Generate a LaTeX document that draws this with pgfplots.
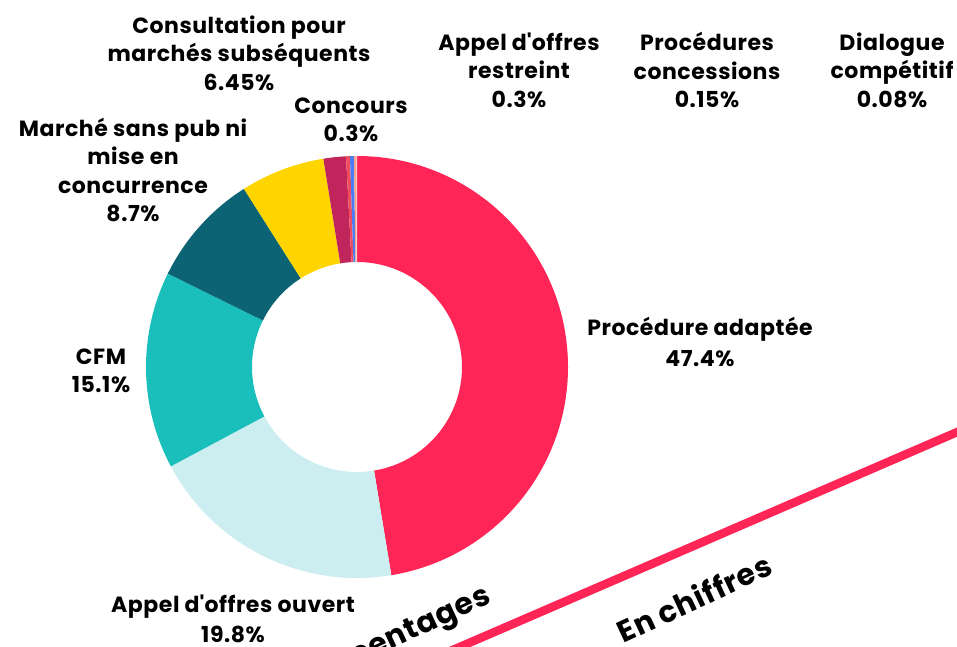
\documentclass[border=0pt]{standalone}
\usepackage{pgfplots}
\pgfplotsset{compat=1.18}
\usepackage{fontspec}
\setmainfont{Poppins}[LetterSpace=2.5]
\definecolor{cPA}{HTML}{FF2657}
\definecolor{cAOO}{HTML}{CCEEF1}
\definecolor{cCFM}{HTML}{1ABFBC}
\definecolor{cMSP}{HTML}{0B6373}
\definecolor{cCMS}{HTML}{FFD500}
\definecolor{cX}{HTML}{C0255C}
\definecolor{cCon}{HTML}{F04E5E}
\definecolor{cAOR}{HTML}{4C7CF5}
\definecolor{cPC}{HTML}{F4A58A}
\definecolor{cDC}{HTML}{F7C6C0}
\tikzset{lbl/.style={align=center, inner sep=0pt, text=black,
    font=\bfseries\fontsize{22}{28.5}\selectfont}}
\newcommand{\q}{\textquotesingle}
\begin{document}
\begin{tikzpicture}
\clip (0,0) rectangle (957pt,646pt);
\begin{axis}[
  scale only axis, width=957pt, height=646pt,
  xmin=0, xmax=957, ymin=0, ymax=646,
  hide axis, clip=false
]
\xdef\cum{0}
\foreach \v/\c in {47.4/cPA, 19.8/cAOO, 15.1/cCFM, 8.7/cMSP, 6.45/cCMS, 1.72/cX, 0.3/cCon, 0.3/cAOR, 0.15/cPC, 0.08/cDC}{
  \pgfmathsetmacro{\a}{90-3.6*\cum}
  \pgfmathsetmacro{\b}{90-3.6*(\cum+\v)}
  \pgfmathsetmacro{\xa}{357+211*cos(\a)}
  \pgfmathsetmacro{\ya}{279+211*sin(\a)}
  \pgfmathsetmacro{\xb}{357+105*cos(\b)}
  \pgfmathsetmacro{\yb}{279+105*sin(\b)}
  \edef\tmp{\noexpand\fill[\c] (axis cs:\xa,\ya) arc[start angle=\a, end angle=\b, radius=211pt] -- (axis cs:\xb,\yb) arc[start angle=\b, end angle=\a, radius=105pt] -- cycle;}
  \tmp
  \pgfmathsetmacro{\n}{\cum+\v}
  \xdef\cum{\n}
}
% labels
\node[lbl] at (axis cs:700,304) {Procédure adaptée\\[3pt]47.4\%};
\node[lbl] at (axis cs:233,27) {Appel d\q offres ouvert\\[2pt]19.8\%};
\node[lbl] at (axis cs:101,275) {CFM\\15.1\%};
\node[lbl] at (axis cs:133,476) {Marché sans pub ni\\mise en\\concurrence\\8.7\%};
\node[lbl] at (axis cs:239,593) {Consultation pour\\marchés subséquents\\6.45\%};
\node[lbl] at (axis cs:351,526) {Concours\\0.3\%};
\node[lbl] at (axis cs:519,576) {Appel d\q offres\\restreint\\0.3\%};
\node[lbl] at (axis cs:707,576) {Procédures\\concessions\\0.15\%};
\node[lbl] at (axis cs:892,576) {Dialogue\\compétitif\\0.08\%};
% tab separator
\draw[cPA, line width=8.5pt] (axis cs:440,-9.5) -- (axis cs:980,223.8);
\node[rotate=25, inner sep=0pt, font=\bfseries\fontsize{30}{32}\selectfont] at (axis cs:694,48) {En chiffres};
\node[rotate=25, inner sep=0pt, font=\bfseries\fontsize{30}{32}\selectfont] at (axis cs:388,2) {Pourcentages};
\end{axis}
\end{tikzpicture}
\end{document}
